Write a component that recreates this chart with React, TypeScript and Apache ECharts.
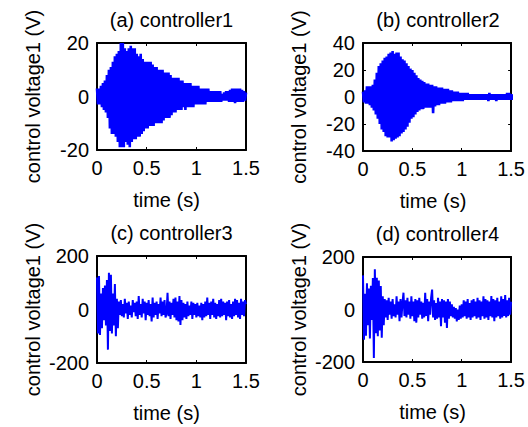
import React, { useEffect, useRef } from "react";
import * as echarts from "echarts";

const titles = ["(a) controller1", "(b) controller2", "(c) controller3", "(d) controller4"];
const yName = "control voltage1 (V)";
const xName = "time (s)";
const yRanges = [[-20, 20, 20], [-40, 40, 20], [-200, 200, 200], [-200, 200, 200]];

// sampled every 0.01 s from 0 to 1.5 s
const ctrl1 = [3,-3,3,-3,4,-4,5,-5,6,-6,8,-8,10,-12,11,-14,13,-14,15,-15,16,-17,17,-19,20,-19,20,-19,18,-17,17,-18,18,-19,19,-17,18,-16,18,-16,16,-15,15,-15,16,-14,14,-13,13,-12,13,-12,13,-11,13,-11,12,-11,11,-10,11,-10,10,-10,10,-10,10,-9,9,-8,9,-8,9,-8,8,-7,7,-6,7,-6,7,-5,7,-5,6,-5,6,-4,5,-5,5,-4,5,-4,5,-4,4,-4,4,-3,4,-3,4,-3,3,-3,3,-3,3,-3,3,-2,3,-2,2,-2,2,-2,2,-2,2,-2,2,-2,2,-2,1,-1.5,1.5,-1.5,2,-1.5,2,-2,2.5,-2,3,-2,3,-2.5,3,-2,3,-2,3,-2,2.5,-2,2,-1.5,1.5];
const ctrl2 = [4,-4,5,-5,8,-5,8,-6,8,-8,9,-10,13,-13,18,-16,23,-20,25,-24,27,-26,29,-29,30,-30,32,-30,33,-33,34,-32,32,-31,33,-30,33,-29,30,-27,28,-26,27,-24,25,-22,23,-19,21,-16,20,-15,18,-13,16,-11,14,-10,13,-9,12,-9,11,-8,10,-8,10,-8,9,-8,9,-12,8,-7,8,-6,7,-6,7,-5,7,-5,6,-5,6,-4,6,-4,5,-4,5,-3,4,-3,4,-3,4,-3,3,-3,3,-3,3,-2,3,-2,3,-2,2,-2,2,-2,2,-2,2,-2,2,-2,2,-2,2,-2,2,-2,2,-2,2,-3,3,-2,2,-2,2,-2,2,-3,2,-2,2,-2,2,-2,2,-2,2,-2,3,-2,3,-2,2,-2,2];
const ctrl3 = [120,-90,125,-95,60,-70,80,-40,90,-60,110,-150,137,-80,130,-90,60,-60,95,-100,40,-70,30,-20,35,-25,20,-30,40,-15,25,-35,30,-20,15,-30,35,-10,25,-25,30,-35,50,-20,20,-30,40,-15,30,-40,25,-20,35,-25,20,-45,45,-30,25,-20,30,-35,20,-15,45,-25,30,-20,35,-30,-15,62,-25,30,-35,25,-20,40,-30,45,-40,30,-45,50,-58,35,-40,25,-30,20,-35,30,-25,15,-20,30,-35,25,-20,20,-30,25,-25,15,-30,25,-40,20,-30,30,-25,45,-20,25,-35,30,-20,40,-30,25,-35,20,-25,35,-30,40,-25,30,-20,25,-40,30,-25,35,-30,20,-35,30,-25,40,-20,35,-30,25,-35,40,-20,30,-25,35,20];
const ctrl4 = [130,-115,60,-100,100,-60,80,-110,90,-40,120,-185,153,-90,121,-102,110,-80,89,-108,50,-60,40,-30,35,-40,45,-20,30,-35,40,-25,20,-30,50,-20,30,-45,40,-30,25,64,-25,35,-30,45,-20,30,-35,50,-25,30,-45,40,-50,35,-30,45,-20,30,-35,25,-30,64,-25,40,-45,30,-20,45,76,-30,35,-40,25,-35,45,-30,30,-64,40,-30,35,-50,30,-70,40,-35,30,-25,20,-30,10,-35,5,-45,0,-40,15,-35,20,-30,35,-25,30,-35,40,-30,25,-40,35,-30,40,-25,30,-35,45,-30,35,-40,30,-25,50,-35,40,-30,35,-40,30,-25,51,-30,40,-45,35,-30,45,-25,30,-35,50,-30,40,-25,55,-30,35,-25,45,-20,30];
const seriesData = [ctrl1, ctrl2, ctrl3, ctrl4];
const xTicks = { min: 0, max: 1.5, interval: 0.5 };

const FONT = "'Liberation Sans', Arial, sans-serif";

export default function App() {
  const ref = useRef<HTMLDivElement>(null);
  useEffect(() => {
    document.body.style.margin = "0";
    if (!ref.current) return;
    const chart = echarts.init(ref.current, null, { renderer: "svg" });
    const grids = [
      { left: 97, top: 43, width: 149, height: 107 },
      { left: 363, top: 43, width: 150, height: 108 },
      { left: 97, top: 256, width: 149, height: 107 },
      { left: 363, top: 257, width: 149, height: 105 },
    ];
    const widths = [2.6, 2.6, 2.0, 2.0];
    const xAxis: any[] = [];
    const yAxis: any[] = [];
    const series: any[] = [];
    const graphic: any[] = [];
    const lineStyle = { color: "#000", width: 2 };
    const label = { color: "#000", fontSize: 20, fontFamily: FONT };
    grids.forEach((g, i) => {
      const [ymin, ymax, yint] = yRanges[i];
      xAxis.push({
        type: "value", gridIndex: i, position: "bottom", ...xTicks,
        axisLine: { show: true, lineStyle, onZero: false },
        axisTick: { show: true, inside: true, length: 3, lineStyle: { color: "#000" } },
        axisLabel: { ...label, margin: 8, showMinLabel: true, showMaxLabel: true },
        splitLine: { show: false },
      });
      xAxis.push({
        type: "value", gridIndex: i, position: "top", ...xTicks,
        axisLine: { show: true, lineStyle, onZero: false },
        axisTick: { show: true, inside: true, length: 3, lineStyle: { color: "#000" } },
        axisLabel: { show: false },
        splitLine: { show: false },
      });
      yAxis.push({
        type: "value", gridIndex: i, position: "left", min: ymin, max: ymax, interval: yint,
        axisLine: { show: true, lineStyle, onZero: false },
        axisTick: { show: true, inside: true, length: 3, lineStyle: { color: "#000" } },
        axisLabel: { ...label, margin: 8, showMinLabel: true, showMaxLabel: true },
        splitLine: { show: false },
      });
      yAxis.push({
        type: "value", gridIndex: i, position: "right", min: ymin, max: ymax, interval: yint,
        axisLine: { show: true, lineStyle, onZero: false },
        axisTick: { show: true, inside: true, length: 3, lineStyle: { color: "#000" } },
        axisLabel: { show: false },
        splitLine: { show: false },
      });
      series.push({
        type: "line",
        xAxisIndex: 2 * i,
        yAxisIndex: 2 * i,
        data: seriesData[i].map((v, k) => [+(k * 0.01).toFixed(2), v]),
        showSymbol: false,
        lineStyle: { color: "#0000ff", width: widths[i], join: "miter" },
        clip: true,
      });
      const cx = g.left + g.width / 2;
      graphic.push({
        type: "text", x: cx, y: g.top - 23,
        style: { text: titles[i], fill: "#000", font: `20px ${FONT}`, textAlign: "center", textVerticalAlign: "middle" },
      });
      graphic.push({
        type: "text", x: cx - 5, y: g.top + g.height + 50,
        style: { text: xName, fill: "#000", font: `20px ${FONT}`, textAlign: "center", textVerticalAlign: "middle" },
      });
      graphic.push({
        type: "text", x: g.left - 64, y: g.top + g.height / 2,
        rotation: Math.PI / 2,
        style: { text: yName, fill: "#000", font: `20px ${FONT}`, textAlign: "center", textVerticalAlign: "middle" },
      });
    });
    chart.setOption({
      animation: false,
      backgroundColor: "#fff",
      grid: grids,
      xAxis,
      yAxis,
      series,
      graphic,
    });
    return () => chart.dispose();
  }, []);
  return <div ref={ref} style={{ width: 528, height: 427 }} />;
}
